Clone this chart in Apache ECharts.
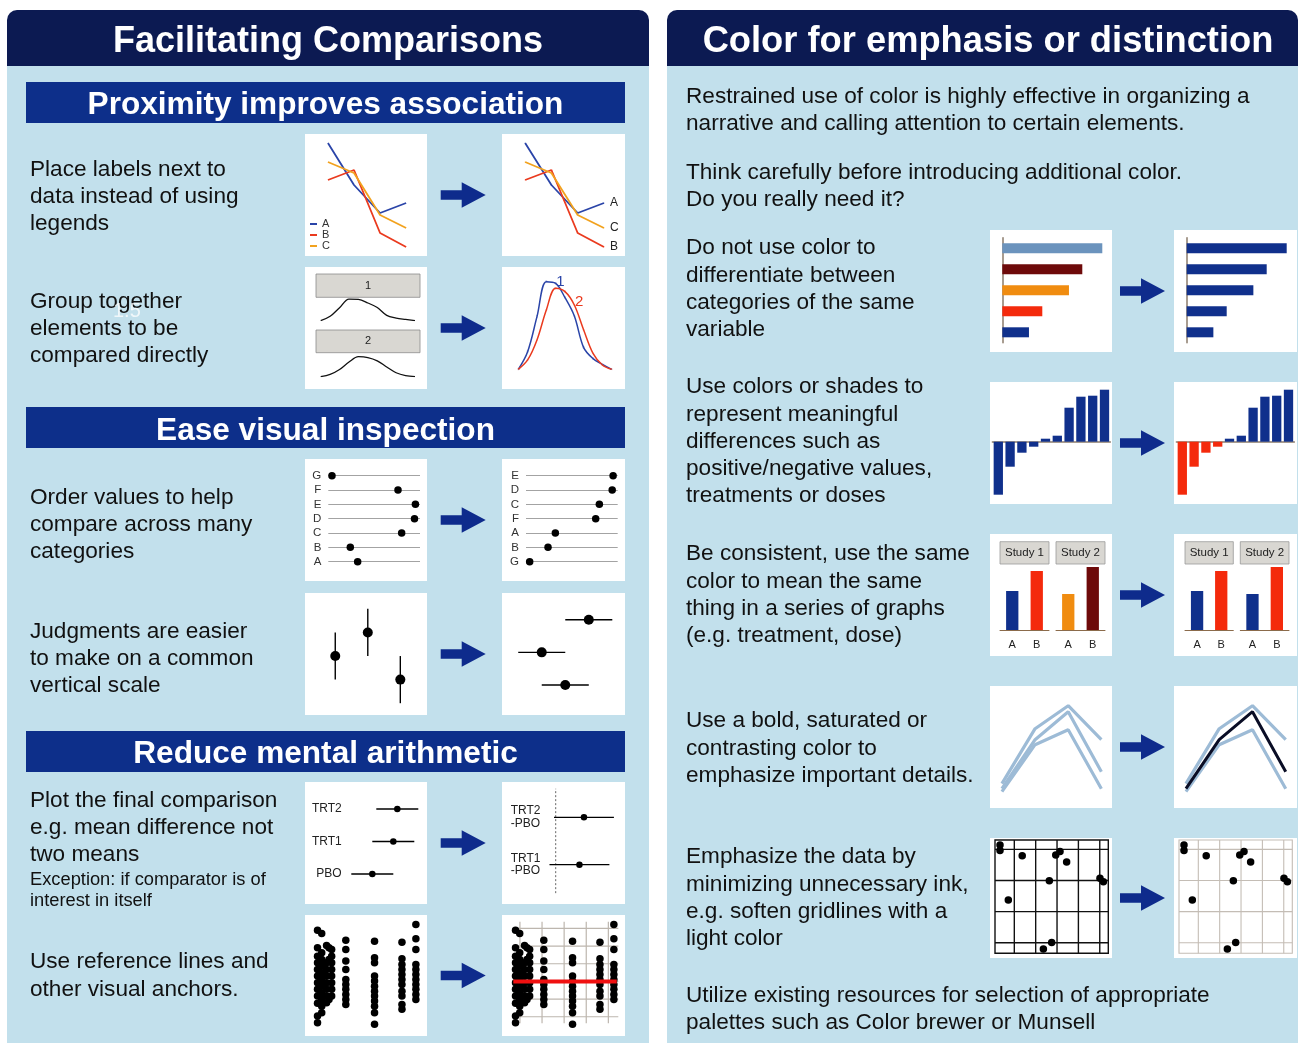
<!DOCTYPE html>
<html><head><meta charset="utf-8">
<script src="https://cdn.jsdelivr.net/npm/echarts@6/dist/echarts.min.js"></script>
<style>html,body{margin:0;padding:0;background:#fff}#c{width:1298px;height:1043px}</style>
</head><body><div id="c"></div><script>
// ---------------- DATA ----------------
const lineX = [1, 2, 3, 4];
const lineA = [113, 71, 43, 53];
const lineB = [76, 86, 23, 9];
const lineC = [94, 83, 41, 28];
const densX = [0, 1, 2, 3, 4, 5, 6, 7, 8, 9, 10];
const dens1 = [0, 53, 158, 263, 258, 215, 160, 65, 32, 15, 0];
const dens2 = [0, 28, 88, 178, 243, 233, 193, 118, 48, 13, 0];
const dotCats = ['A', 'B', 'C', 'D', 'E', 'F', 'G'];
const dotVals = [32, 24, 80, 94, 95, 76, 4];
const errX = [1, 2, 3];
const errMean = [5, 6, 4];
const errHalf = [1, 1, 1];
const errRow = [1, 3, 2];
const trtCats = ['PBO', 'TRT1', 'TRT2'];
const trtMeans = [5.0, 7.1, 7.5];
const trtHalf = 2.1;
const diffLabels = ['TRT1\n-PBO', 'TRT2\n-PBO'];
const diffHalf = 2.65;
const diffRef = 0;
const stripColX = [-0.2, -0.01, 0.21, 0.32, 0.44, 1.08, 2.38, 3.62, 4.25];
const stripColY = [
  [4.90, 3.90, 3.43, 3.05, 2.68, 2.30, 1.92, 1.55, 1.17, 0.76, 0.04, -0.34],
  [4.71, 3.62, 3.24, 2.86, 2.49, 2.11, 1.73, 1.36, 0.98, 0.60, 0.23],
  [4.03, 3.05, 2.68, 2.30, 1.92, 1.55, 1.17, 0.79],
  [3.90, 3.24, 0.98],
  [3.81, 3.43, 3.05, 2.68, 2.30, 1.92, 1.55, 1.17],
  [4.33, 3.81, 3.15, 2.68, 2.11, 1.83, 1.55, 1.26, 0.98, 0.70],
  [4.28, 3.34, 3.05, 2.30, 2.02, 1.73, 1.45, 1.17, 0.89, 0.60, 0.23, -0.43],
  [4.22, 3.28, 2.96, 2.68, 2.39, 2.11, 1.83, 1.45, 1.17, 0.70, 0.42],
  [5.22, 4.41, 3.81, 2.96, 2.68, 2.39, 2.11, 1.83, 1.55, 1.26, 0.98]
];
const stripGridX = [0, 1, 2, 3, 4];
const stripGridY = [0, 1, 2, 3, 4, 5];
const stripRef = 2;
const barCats = ['1', '2', '3', '4', '5'];
const barVals = [15, 12, 10, 6, 4];
const barColors = ['#6b93bd', '#6e0a0a', '#f08c10', '#f42a0c', '#10308c'];
const divCats = ['1', '2', '3', '4', '5', '6', '7', '8', '9', '10'];
const divVals = [-53, -25, -11, -5, 3, 6, 34, 45, 46, 52];
const studyCats = ['A', 'B'];
const study1 = [39, 59];
const study2 = [36, 63];
const emphX = [1, 2, 3, 4];
const emph1 = [24, 79, 102, 68];
const emph2 = [19, 68, 96, 36];
const emph3 = [16, 63, 78, 19];
const scatX = [0.33, 0.33, 1.37, 2.94, 3.14, 3.45, 2.64, 5.01, 5.17, 0.72, 2.75, 2.36];
const scatY = [4.14, 3.96, 3.79, 3.82, 3.93, 3.59, 2.99, 3.07, 2.96, 2.37, 1.01, 0.80];
const scatGridX = [1, 2, 3, 4, 5];
const scatGridY = [1, 2, 3, 4];

// ---------------- HELPERS ----------------
const FONT = '"Liberation Sans", Arial, Helvetica, sans-serif';
const NAVY = '#0c1a52', SUB = '#0d2f8a', BODY = '#c2e0ec', ARROW = '#0e2b8c';
const BLUE = '#10308c', RED = '#f42a0c';
const TS = 22.6; // body text size
const grids = [], xAxes = [], yAxes = [], series = [], G = [];
const DOT = { color: '#000', opacity: 1 };

function addGrid(rect, xa, ya) {
  const gi = grids.length;
  grids.push(Object.assign({ containLabel: false, show: false }, rect));
  xa.gridIndex = gi; ya.gridIndex = gi;
  xAxes.push(xa); yAxes.push(ya);
  return gi;
}
function hv(min, max) { return { type: 'value', min, max, show: false }; }
function ser(gi, s) { return Object.assign({ xAxisIndex: gi, yAxisIndex: gi, silent: true }, s); }
function segs(gi, data, color, width, z, dash) {
  series.push(ser(gi, {
    type: 'custom', z: z || 2, data,
    renderItem: (p, api) => {
      const a = api.coord([api.value(0), api.value(1)]);
      const b = api.coord([api.value(2), api.value(3)]);
      return { type: 'line', shape: { x1: a[0], y1: a[1], x2: b[0], y2: b[1] },
        style: { stroke: color, lineWidth: width, lineDash: dash || null } };
    }
  }));
}
function pairs(xs, ys) { return xs.map((x, i) => [x, ys[i]]); }
function rect(x, y, w, h, fill, extra) {
  G.push(Object.assign({ type: 'rect', z: -1, shape: { x, y, width: w, height: h }, style: { fill } }, extra || {}));
}
function txt(x, yc, lines, size, lh, opts) {
  G.push({ type: 'text', x, y: yc - lh / 2, z: 10, style: Object.assign({
    text: lines.join('\n'), fill: '#111', fontSize: size, fontFamily: FONT, lineHeight: lh,
    verticalAlign: 'top', align: 'left' }, opts || {}) });
}
function arrow(x0, c) {
  G.push({ type: 'polygon', z: 5, shape: { points: [[x0, c - 4.8], [x0 + 21, c - 4.8], [x0 + 21, c - 12.7], [x0 + 45, c], [x0 + 21, c + 12.7], [x0 + 21, c + 4.8], [x0, c + 4.8]] }, style: { fill: ARROW } });
}

// ---------------- BACKGROUND PANELS ----------------
rect(7, 60, 642, 983, BODY);
rect(7, 10, 642, 56, NAVY, { shape: { x: 7, y: 10, width: 642, height: 56, r: [10, 10, 0, 0] } });
rect(667, 60, 631, 983, BODY);
rect(667, 10, 631, 56, NAVY, { shape: { x: 667, y: 10, width: 631, height: 56, r: [10, 10, 0, 0] } });
rect(26, 82, 599, 41, SUB);
rect(26, 407, 599, 41, SUB);
rect(26, 731, 599, 41, SUB);
txt(328, 42, ['Facilitating Comparisons'], 36, 40, { fill: '#fff', fontWeight: 'bold', align: 'center' });
txt(988, 42, ['Color for emphasis or distinction'], 36.3, 40, { fill: '#fff', fontWeight: 'bold', align: 'center' });
txt(325.5, 105, ['Proximity improves association'], 31.6, 36, { fill: '#fff', fontWeight: 'bold', align: 'center' });
txt(325.5, 431, ['Ease visual inspection'], 31.6, 36, { fill: '#fff', fontWeight: 'bold', align: 'center' });
txt(325.5, 754, ['Reduce mental arithmetic'], 31.6, 36, { fill: '#fff', fontWeight: 'bold', align: 'center' });

// white boxes
const leftRows = [[134, 122], [267, 122], [459, 122], [593, 122], [782, 122], [915, 121]];
leftRows.forEach(r => { rect(305, r[0], 122, r[1], '#fff'); rect(502, r[0], 123, r[1], '#fff'); arrow(440.7, r[0] + r[1] / 2); });
const rightRows = [[230, 122], [382, 122], [534, 122], [686, 122], [838, 120]];
rightRows.forEach(r => { rect(990, r[0], 122, r[1], '#fff'); rect(1174, r[0], 123, r[1], '#fff'); arrow(1120, r[0] + r[1] / 2); });

// ---------------- LEFT TEXT ----------------
txt(30, 170, ['Place labels next to', 'data instead of using', 'legends'], TS, 27);
txt(30, 302, ['Group together', 'elements to be', 'compared directly'], TS, 27);
txt(113, 311, ['1.5'], 20, 24, { fill: 'rgba(255,255,255,0.75)' });
txt(30, 498, ['Order values to help', 'compare across many', 'categories'], TS, 27);
txt(30, 632, ['Judgments are easier', 'to make on a common', 'vertical scale'], TS, 27);
txt(30, 801, ['Plot the final comparison', 'e.g. mean difference not', 'two means'], TS, 27);
txt(30, 880, ['Exception: if comparator is of', 'interest in itself'], 18.3, 21);
txt(30, 962, ['Use reference lines and', 'other visual anchors.'], TS, 28);

// ---------------- RIGHT TEXT ----------------
txt(686, 97, ['Restrained use of color is highly effective in organizing a', 'narrative and calling attention to certain elements.'], TS, 27);
txt(686, 173, ['Think carefully before introducing additional color.', 'Do you really need it?'], TS, 27);
txt(686, 248, ['Do not use color to', 'differentiate between', 'categories of the same', 'variable'], TS, 27.3);
txt(686, 387, ['Use colors or shades to', 'represent meaningful', 'differences such as', 'positive/negative values,', 'treatments or doses'], TS, 27.3);
txt(686, 554, ['Be consistent, use the same', 'color to mean the same', 'thing in a series of graphs', '(e.g. treatment, dose)'], TS, 27.3);
txt(686, 721, ['Use a bold, saturated or', 'contrasting color to', 'emphasize important details.'], TS, 27.5);
txt(686, 857, ['Emphasize the data by', 'minimizing unnecessary ink,', 'e.g. soften gridlines with a', 'light color'], TS, 27.3);
txt(686, 996, ['Utilize existing resources for selection of appropriate', 'palettes such as Color brewer or Munsell'], TS, 27);

// ---------------- LEFT CHARTS ----------------
const lineCols = { A: '#2a44a8', B: '#ea3a1e', C: '#f2a21e' };
// box 1: legend version
let g = addGrid({ left: 305, top: 134, width: 122, height: 122 }, hv(0.12, 4.8), hv(0, 122));
[['A', lineA], ['B', lineB], ['C', lineC]].forEach(([n, d]) => series.push(ser(g, {
  type: 'line', name: n, data: pairs(lineX, d), showSymbol: false, lineStyle: { width: 1.8, color: lineCols[n] }, itemStyle: { color: lineCols[n] } })));
// box 2: direct labels
g = addGrid({ left: 502, top: 134, width: 123, height: 122 }, hv(0.12, 4.8), hv(0, 122));
[['A', lineA], ['B', lineB], ['C', lineC]].forEach(([n, d]) => series.push(ser(g, {
  type: 'line', name: n + ' lab', symbolSize: 0.1, showSymbol: true,
  data: lineX.map((x, i) => i === lineX.length - 1 ? { value: [x, d[i]], label: { show: true, formatter: n, position: 'right', distance: 5, fontSize: 12, fontFamily: FONT, color: '#222' } } : [x, d[i]]),
  lineStyle: { width: 1.8, color: lineCols[n] }, itemStyle: { color: lineCols[n] }, label: { show: false } })));

// box 3: faceted densities
rect(316, 274, 104, 23.3, '#d9d7d2', { z: 0, style: { fill: '#d9d7d2', stroke: '#8c8c8c', lineWidth: 0.8 } });
rect(316, 330, 104, 22.7, '#d9d7d2', { z: 0, style: { fill: '#d9d7d2', stroke: '#8c8c8c', lineWidth: 0.8 } });
txt(368, 285.7, ['1'], 11, 14, { align: 'center', fill: '#222' });
txt(368, 341.3, ['2'], 11, 14, { align: 'center', fill: '#222' });
g = addGrid({ left: 320.7, top: 296, width: 94.3, height: 24.7 }, hv(0, 10), hv(0, 300));
series.push(ser(g, { type: 'line', data: pairs(densX, dens1), smooth: 0.35, showSymbol: false, lineStyle: { width: 1.3, color: '#111' } }));
g = addGrid({ left: 320.7, top: 352, width: 94.3, height: 24.7 }, hv(0, 10), hv(0, 300));
series.push(ser(g, { type: 'line', data: pairs(densX, dens2), smooth: 0.35, showSymbol: false, lineStyle: { width: 1.3, color: '#111' } }));
// box 4: overlaid densities
g = addGrid({ left: 518.3, top: 279, width: 93.4, height: 90.3 }, hv(0, 10), hv(0, 271));
function labDens(d, idx, lab, color, off) {
  return ser(g, { type: 'line', smooth: 0.35, showSymbol: true, symbolSize: 0.1, lineStyle: { width: 1.5, color }, itemStyle: { color },
    data: densX.map((x, i) => i === idx ? { value: [x, d[i]], label: { show: true, formatter: lab, position: 'right', distance: 9, offset: off, fontSize: 15, fontFamily: FONT, color } } : [x, d[i]]) });
}
series.push(labDens(dens1, 3, '1', '#2a44a8', [0, 0]));
series.push(labDens(dens2, 5, '2', '#ea3a1e', [0, 10]));

// box 5/6: dot plots
function dotPlot(left, cats, vals) {
  const gi = addGrid({ left, top: 475.7, width: 91.7, height: 86 }, hv(0, 100), {
    type: 'category', data: cats, boundaryGap: false, show: true,
    axisLine: { show: false }, axisTick: { show: false },
    axisLabel: { interval: 0, fontSize: 11.5, fontFamily: FONT, color: '#333', margin: 7 },
    splitLine: { show: true, interval: 0, lineStyle: { color: '#a3a3a3', width: 1 } } });
  series.push(ser(gi, { type: 'scatter', symbolSize: 7.5, itemStyle: DOT, data: cats.map((c, i) => [vals[i], c]) }));
}
dotPlot(328.3, dotCats, dotVals);
const order = dotCats.map((c, i) => i).sort((a, b) => dotVals[a] - dotVals[b]);
dotPlot(526, order.map(i => dotCats[i]), order.map(i => dotVals[i]));

// box 7: vertical error bars
g = addGrid({ left: 305, top: 593.3, width: 122, height: 121.7 }, hv(0.07, 3.82), hv(2.5, 7.66));
segs(g, errX.map((x, i) => [x, errMean[i] - errHalf[i], x, errMean[i] + errHalf[i]]), '#000', 1.4);
series.push(ser(g, { type: 'scatter', symbolSize: 10, itemStyle: DOT, z: 3, data: pairs(errX, errMean) }));
// box 8: common scale, horizontal
g = addGrid({ left: 502, top: 593.3, width: 123, height: 121.7 }, hv(2.31, 7.54), hv(0.08, 3.81));
segs(g, errRow.map((r, i) => [errMean[i] - errHalf[i], r, errMean[i] + errHalf[i], r]), '#000', 1.4);
series.push(ser(g, { type: 'scatter', symbolSize: 10, itemStyle: DOT, z: 3, data: errRow.map((r, i) => [errMean[i], r]) }));

// box 9: means
g = addGrid({ left: 346, top: 792.75, width: 81, height: 97.5 }, hv(2.37, 10.47), {
  type: 'category', data: trtCats, show: true, axisLine: { show: false }, axisTick: { show: false },
  axisLabel: { fontSize: 12, fontFamily: FONT, color: '#222', margin: 4.3 }, splitLine: { show: false } });
segs(g, trtMeans.map((m, i) => [m - trtHalf, i, m + trtHalf, i]), '#000', 1.3);
series.push(ser(g, { type: 'scatter', symbolSize: 6.5, z: 3, itemStyle: DOT, data: trtMeans.map((m, i) => [m, i]) }));
// box 10: differences
const diffVals = [trtMeans[1] - trtMeans[0], trtMeans[2] - trtMeans[0]];
g = addGrid({ left: 502, top: 769.9, width: 123, height: 142.2 }, hv(-4.75, 6.13), {
  type: 'value', min: 0, max: 3, interval: 1, show: true, axisLine: { show: false }, axisTick: { show: false }, splitLine: { show: false },
  axisLabel: { inside: true, margin: 8.7, fontSize: 12, lineHeight: 12.5, fontFamily: FONT, color: '#222', formatter: v => diffLabels[v - 1] || '' } });
segs(g, [[diffRef, 0.4, diffRef, 2.6]], '#666', 1, 1, [2, 2]);
segs(g, diffVals.map((d, i) => [d - diffHalf, i + 1, d + diffHalf, i + 1]), '#000', 1.3);
series.push(ser(g, { type: 'scatter', symbolSize: 6.5, z: 3, itemStyle: DOT, data: diffVals.map((d, i) => [d, i + 1]) }));

// box 11/12: strip plots
const stripData = [];
stripColX.forEach((x, c) => stripColY[c].forEach(y => stripData.push([x, y])));
const SXmin = -0.3, SXmax = 4.45, SYmin = -0.37, SYmax = 5.38;
g = addGrid({ left: 315.3, top: 921.7, width: 105, height: 101.6 }, hv(SXmin, SXmax), hv(SYmin, SYmax));
series.push(ser(g, { type: 'scatter', symbolSize: 7.5, clip: false, itemStyle: DOT, data: stripData }));
g = addGrid({ left: 513.3, top: 921.7, width: 105, height: 101.6 }, hv(SXmin, SXmax), hv(SYmin, SYmax));
segs(g, stripGridX.map(x => [x, SYmin, x, SYmax]), '#bdb6ae', 1.2, 1);
segs(g, stripGridY.map(y => [SXmin, y, SXmax, y]), '#bdb6ae', 1.2, 1);
series.push(ser(g, { type: 'scatter', symbolSize: 7.5, clip: false, z: 2, itemStyle: DOT, data: stripData }));
segs(g, [[SXmin, stripRef, 4.38, stripRef]], '#f01010', 4, 4);

// ---------------- RIGHT CHARTS ----------------
function hbars(left, colors) {
  const gi = addGrid({ left, top: 237.8, width: 110, height: 105 }, hv(0, 16.5), {
    type: 'category', data: barCats, inverse: true, show: true,
    axisLine: { show: true, onZero: false, lineStyle: { color: '#8b7b6b', width: 1.5 } }, axisTick: { show: false }, axisLabel: { show: false }, splitLine: { show: false } });
  series.push(ser(gi, { type: 'bar', barWidth: 10, data: barVals.map((v, i) => ({ value: v, itemStyle: { color: colors[i] } })) }));
}
hbars(1002.3, barColors);
hbars(1186.7, barVals.map(() => BLUE));

function dbars(left, negColor) {
  const gi = addGrid({ left, top: 381.7, width: 118, height: 122.6 }, {
    type: 'category', data: divCats, show: true, axisLine: { show: true, onZero: true, lineStyle: { color: '#8b7b6b', width: 1.5 } },
    axisTick: { show: false }, axisLabel: { show: false }, splitLine: { show: false } }, hv(-62.6, 60));
  series.push(ser(gi, { type: 'bar', barWidth: 9.3, data: divVals.map(v => ({ value: v, itemStyle: { color: v < 0 ? negColor : BLUE } })) }));
}
dbars(992.4, BLUE);
dbars(1176.4, RED);

function studyPanel(left, width, vals, colors, label) {
  rect(left, 541.7, width, 22.3, '#d9d7d2', { z: 0, style: { fill: '#d9d7d2', stroke: '#999', lineWidth: 0.8 } });
  txt(left + width / 2, 552.8, [label], 11.5, 14, { align: 'center', fill: '#222' });
  const gi = addGrid({ left, top: 564, width, height: 66 }, {
    type: 'category', data: studyCats, show: true, axisLine: { show: true, lineStyle: { color: '#8b6b4b', width: 1 } }, axisTick: { show: false },
    axisLabel: { fontSize: 11, fontFamily: FONT, color: '#222', margin: 9 }, splitLine: { show: false } }, hv(0, 66));
  series.push(ser(gi, { type: 'bar', barWidth: 12.3, data: vals.map((v, i) => ({ value: v, itemStyle: { color: colors[i] } })) }));
}
studyPanel(1000, 49, study1, [BLUE, RED], 'Study 1');
studyPanel(1056, 49, study2, ['#f08c10', '#6e0a0a'], 'Study 2');
studyPanel(1185, 48.3, study1, [BLUE, RED], 'Study 1');
studyPanel(1240.3, 48.7, study2, [BLUE, RED], 'Study 2');

const LB = '#9dbbd6';
g = addGrid({ left: 990, top: 685.7, width: 122.3, height: 122 }, hv(0.64, 4.33), hv(0, 122));
[emph1, emph2, emph3].forEach(d => series.push(ser(g, { type: 'line', showSymbol: false, data: pairs(emphX, d), lineStyle: { width: 3.2, color: LB } })));
g = addGrid({ left: 1174, top: 685.7, width: 122.7, height: 122 }, hv(0.64, 4.33), hv(0, 122));
[emph1, emph3].forEach(d => series.push(ser(g, { type: 'line', showSymbol: false, data: pairs(emphX, d), lineStyle: { width: 3.2, color: LB } })));
series.push(ser(g, { type: 'line', showSymbol: false, z: 3, data: pairs(emphX, emph2), lineStyle: { width: 3, color: '#0a0d25' } }));

function scatBox(left, color, width) {
  const XMIN = 0.096, XMAX = 5.40, YMIN = 0.66, YMAX = 4.30;
  const gi = addGrid({ left, top: 840, width: 113.3, height: 113.3, show: true, borderColor: color, borderWidth: width, backgroundColor: 'transparent' }, hv(XMIN, XMAX), hv(YMIN, YMAX));
  segs(gi, scatGridX.map(x => [x, YMIN, x, YMAX]), color, width, 1);
  segs(gi, scatGridY.map(y => [XMIN, y, XMAX, y]), color, width, 1);
  series.push(ser(gi, { type: 'scatter', symbolSize: 7.5, clip: false, z: 3, itemStyle: DOT, data: pairs(scatX, scatY) }));
}
scatBox(995, '#111', 1.4);
scatBox(1179, '#c4bdb5', 1.1);

// ---------------- CHART ----------------
const chart = echarts.init(document.getElementById('c'), null, { renderer: 'canvas' });
chart.setOption({
  animation: false,
  backgroundColor: '#fff',
  textStyle: { fontFamily: FONT },
  legend: { data: ['A', 'B', 'C'], orient: 'vertical', left: 310, top: 218.5, itemWidth: 7, itemHeight: 2, itemGap: 0, icon: 'rect', padding: 0, selectedMode: false,
    textStyle: { fontSize: 11, color: '#333', lineHeight: 10.7, fontFamily: FONT } },
  grid: grids, xAxis: xAxes, yAxis: yAxes, series, graphic: { elements: G }
});
</script></body></html>
